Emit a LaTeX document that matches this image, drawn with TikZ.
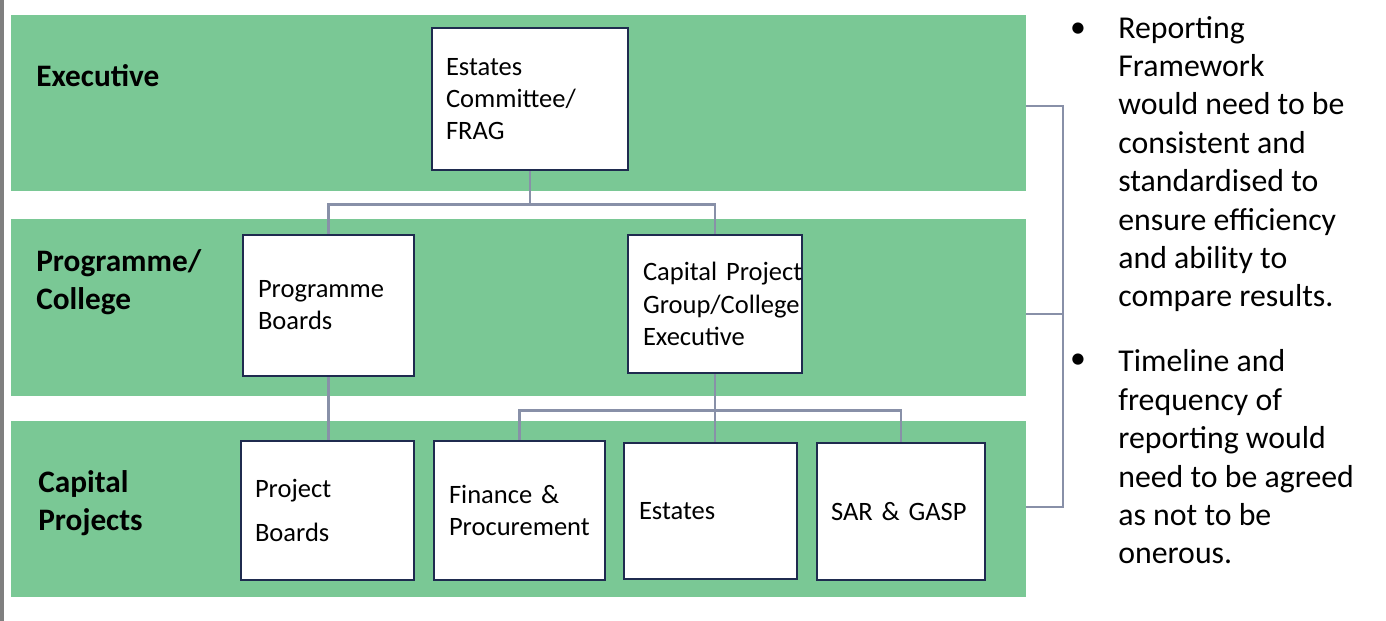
\documentclass[tikz,border=0pt]{standalone}
\usepackage{fontspec}
\setmainfont{Carlito}
\usepackage{tikz}
\usetikzlibrary{calc}
\definecolor{bandgreen}{HTML}{7AC895}
\definecolor{boxnavy}{HTML}{1F2B4F}
\definecolor{linkgrey}{HTML}{8890A8}
\definecolor{sidebar}{HTML}{7F7F7F}
\newcommand{\boxfont}{\fontsize{15.1pt}{18.3pt}\selectfont}
\newcommand{\rowfont}{\fontsize{17.8pt}{21.6pt}\selectfont\bfseries}
\newcommand{\notefont}{\fontsize{18.1pt}{21.85pt}\selectfont}

\begin{document}
\begin{tikzpicture}[x=0.02cm, y=-0.02cm,
		band/.style={fill=bandgreen, inner sep=0pt, minimum width=20.3cm, minimum height=3.54cm},
		orgbox/.style={draw=boxnavy, line width=1.6pt, fill=white, align=left, inner ysep=0pt, font=\boxfont},
		rowlabel/.style={anchor=west, align=left, inner sep=0pt, font=\rowfont},
		link/.style={draw=linkgrey, line width=1.3pt},
		note/.style={anchor=west, align=left, inner sep=0pt, font=\notefont},
		bullet/.style={inner sep=0pt, font=\notefont}]
		\useasboundingbox (0, 0) rectangle (1386, 621);
		% Bands, boxes and links:
		\fill[sidebar] (0, 0) rectangle (4, 621);
		\node[band] (bandexec) at (518.5, 103){};
		\node[band] (bandprog) at (518.5, 307.5){};
		\node[band] (bandcap) at (518.5, 509){};
		\node[rowlabel] (lblexec) at (36, 76){Executive};
		\node[rowlabel] (lblprog) at (36, 282){Programme/\\College};
		\node[rowlabel] (lblcap) at (38, 503){Capital\\Projects};
		\node[orgbox, text width=3.36cm, inner xsep=0.28cm, minimum height=2.84cm] (frag) at (530, 99){Estates\\Committee/\\FRAG};
		\node[orgbox, text width=2.82cm, inner xsep=0.3cm, minimum height=2.82cm] (prog) at (328.5, 305.5){Programme\\Boards};
		\node[orgbox, text width=2.88cm, inner xsep=0.3cm, minimum height=2.76cm] (cpg) at (715, 304){Capital~Project\\Group/College\\Executive};
		\node[orgbox, text width=2.9cm, inner xsep=0.28cm, minimum height=2.78cm] (pb) at (327.5, 510.5){Project\\[6.8pt]Boards};
		\node[orgbox, text width=2.82cm, inner xsep=0.3cm, minimum height=2.78cm] (fin) at (519.5, 510.5){Finance \&\\Procurement};
		\node[orgbox, text width=2.86cm, inner xsep=0.3cm, minimum height=2.72cm] (est) at (710.5, 511){Estates};
		\node[orgbox, text width=2.8cm, inner xsep=0.28cm, minimum height=2.74cm] (sar) at (901, 511.5){SAR \& GASP};
		\draw[link] (frag.south) -- ++(0, 33) -| (prog.north);
		\draw[link] (frag.south) ++(0, 33) -| (cpg.north);
		\draw[link] (prog.south) -- (prog.south |- pb.north);
		\draw[link] (cpg.south) -- (cpg.south |- est.north);
		\draw[link] (cpg.south) ++(0, 36) -| (fin.north);
		\draw[link] (cpg.south) ++(0, 36) -| (sar.north);
		% Bracket and notes:
		\coordinate (brk) at (1063, 0);
		\draw[link] ([yshift=-0.06cm]bandexec.east) -| ([yshift=0.04cm]brk |- bandcap.east) -- ([yshift=0.04cm]bandcap.east);
		\draw[link] ([yshift=-0.13cm]bandprog.east) -- ([yshift=-0.13cm]brk |- bandprog.east);
		\node[bullet] (bul1) at (1078, 30){\textbullet};
		\node[note] (note1) at (1118, 164){Reporting\\Framework\\would need to be\\consistent and\\standardised to\\ensure efficiency\\and ability to\\compare results.};
		\node[bullet] (bul2) at (1078, 361){\textbullet};
		\node[note] (note2) at (1118, 457){Timeline and\\frequency of\\reporting would\\need to be agreed\\as not to be\\onerous.};
	\end{tikzpicture}
\end{document}
